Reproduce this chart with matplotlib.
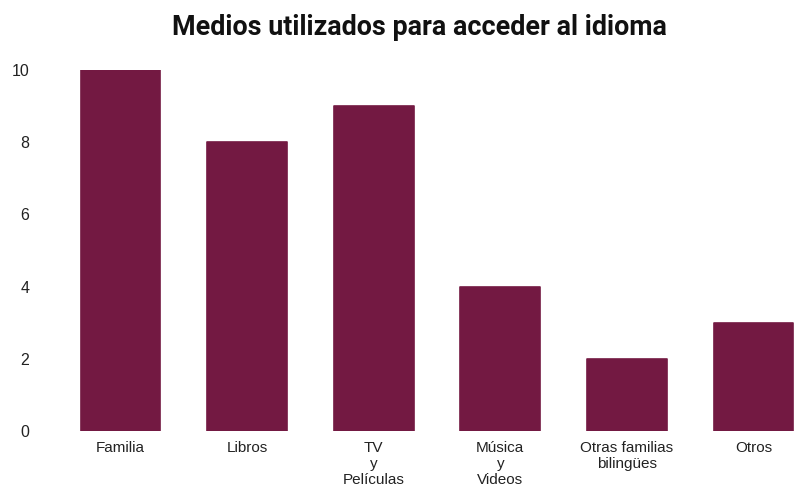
import numpy as np
import matplotlib.pyplot as plt

# data
categorias = ['Familia', 'Libros', 'TV\ny\nPelículas', 'Música\ny\nVideos',
              'Otras familias\nbilingües', 'Otros']
valores = [10, 8, 9, 4, 2, 3]

color_barra = '#731942'

plt.rcParams['font.family'] = ['Liberation Sans', 'DejaVu Sans']

fig = plt.figure(figsize=(7.95, 4.88), dpi=100)
ax = fig.add_axes([0.072, 0.1168, 0.928, 0.7398])

x = np.arange(len(categorias))
bars = ax.bar(x, valores, width=0.63, color=color_barra,
              edgecolor=color_barra, linewidth=1.2)
for b in bars:
    b.set_joinstyle('round')

ax.set_xlim(-0.5, 5.328)
ax.set_ylim(0, 10)
ax.set_yticks([0, 2, 4, 6, 8, 10])
ax.set_xticks(x)
ax.set_xticklabels(categorias, fontsize=11, color='#222222', linespacing=1.2)
ax.tick_params(axis='x', length=0, pad=7)
ax.tick_params(axis='y', length=0, pad=20, labelsize=11.5, labelcolor='#222222')
for s in ax.spines.values():
    s.set_visible(False)

fig.text(0.528, 0.943, 'Medios utilizados para acceder al idioma',
         ha='center', va='center', fontsize=19.4, fontweight='bold',
         family='Roboto', color='#111111')

fig.savefig('out.png', dpi=100)
